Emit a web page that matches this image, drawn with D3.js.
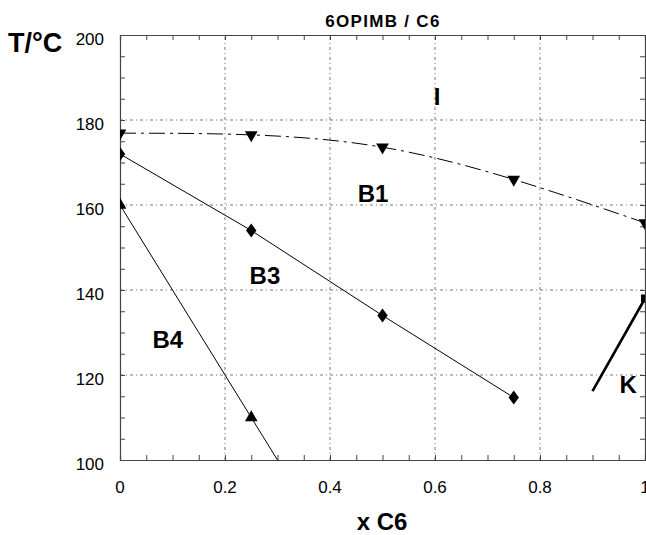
<!DOCTYPE html>
<html lang="en">
<head>
    <meta charset="UTF-8">
    <title>6OPIMB / C6</title>
    <script src="https://d3js.org/d3.v7.min.js"></script>
    <style>
        body { margin: 0; background: #fff; font-family: "Liberation Sans", Arial, sans-serif; }
        svg { display: block; }
        .tick-label { font-size: 17px; fill: #000; }
        .region { font-size: 24px; font-weight: bold; fill: #000; }
        .grid { stroke: #777; stroke-width: 1; stroke-dasharray: 3,3,1,3; }
    </style>
</head>
<body>
    <svg id="chart"></svg>
    <script>
        // I -> B1 transition (down triangles)
        const xI = [0, 0.25, 0.5, 0.75, 1];
        const tI = [176.9, 176.5, 173.6, 166, 155.8];
        // B1 -> B3 (diamonds)
        const xB1 = [0, 0.25, 0.5, 0.75];
        const tB1 = [172, 154, 134, 114.7];
        // B3 -> B4 (up triangles), line runs on to the bottom axis
        const xB3 = [0, 0.25];
        const tB3 = [160, 110];
        // crystal line near x = 1
        const xK = [0.9, 1];
        const tK = [116.2, 138];

        const xTicks = [0, 0.2, 0.4, 0.6, 0.8, 1];
        const xTickLabels = ["0", "0.2", "0.4", "0.6", "0.8", "1"];
        const yTicks = [100, 120, 140, 160, 180, 200];

        const regions = [
            { label: "I", x: 0.604, t: 183.5 },
            { label: "B1", x: 0.482, t: 160.7 },
            { label: "B3", x: 0.276, t: 141.4 },
            { label: "B4", x: 0.091, t: 126.4 },
            { label: "K", x: 0.968, t: 115.8 }
        ];

        const width = 646, height = 535;
        const svg = d3.select("#chart").attr("width", width).attr("height", height);

        const x = d3.scaleLinear().domain([0, 1]).range([120, 645]);
        const y = d3.scaleLinear().domain([100, 200]).range([460, 35]);

        svg.append("clipPath").attr("id", "plot")
          .append("rect").attr("x", 120).attr("y", 35).attr("width", 525).attr("height", 425);

        // grid
        const grid = svg.append("g");
        grid.selectAll(".gx").data(xTicks.slice(1, -1)).enter().append("line")
          .attr("class", "grid")
          .attr("x1", d => x(d)).attr("x2", d => x(d))
          .attr("y1", y(100)).attr("y2", y(200));
        grid.selectAll(".gy").data(yTicks.slice(1, -1)).enter().append("line")
          .attr("class", "grid")
          .attr("x1", x(0)).attr("x2", x(1))
          .attr("y1", d => y(d)).attr("y2", d => y(d));

        // frame + inward ticks on all four sides
        const frameColor = "#444";
        const xMinor = d3.range(0, 1.0001, 0.05);
        const yMinor = d3.range(100, 200.1, 5);
        const axisB = d3.axisBottom(x).tickValues(xMinor).tickSize(-5).tickFormat("");
        const axisT = d3.axisTop(x).tickValues(xMinor).tickSize(-5).tickFormat("");
        const axisL = d3.axisLeft(y).tickValues(yMinor).tickSize(-5).tickFormat("");
        const axisR = d3.axisRight(y).tickValues(yMinor).tickSize(-5).tickFormat("");

        [[axisB, `translate(0,${y(100)})`], [axisT, `translate(0,${y(200)})`],
         [axisL, `translate(${x(0)},0)`], [axisR, `translate(${x(1)},0)`]].forEach(([ax, tr]) => {
            const g = svg.append("g").attr("transform", tr).call(ax);
            g.select(".domain").attr("stroke", frameColor).attr("stroke-width", 1.2);
            g.selectAll(".tick line").attr("stroke", frameColor);
        });

        // tick labels
        svg.selectAll(".xl").data(xTicks).enter().append("text")
          .attr("class", "tick-label")
          .attr("x", d => x(d)).attr("y", 493)
          .attr("text-anchor", "middle")
          .text((d, i) => xTickLabels[i]);
        svg.selectAll(".yl").data(yTicks).enter().append("text")
          .attr("class", "tick-label")
          .attr("x", 104).attr("y", d => y(d) + 9.5)
          .attr("text-anchor", "end")
          .text(d => d);

        const plot = svg.append("g").attr("clip-path", "url(#plot)");

        // dashed I/B1 curve
        const zipI = xI.map((v, i) => [v, tI[i]]);
        plot.append("path")
          .attr("d", d3.line().x(d => x(d[0])).y(d => y(d[1])).curve(d3.curveNatural)(zipI))
          .attr("fill", "none").attr("stroke", "#000").attr("stroke-width", 1)
          .attr("stroke-dasharray", "16,5,3,5");

        // B1/B3 line
        const zipB1 = xB1.map((v, i) => [v, tB1[i]]);
        plot.append("path")
          .attr("d", d3.line().x(d => x(d[0])).y(d => y(d[1]))(zipB1))
          .attr("fill", "none").attr("stroke", "#000").attr("stroke-width", 1);

        // B3/B4 line, extended to the bottom axis
        const slope = (tB3[1] - tB3[0]) / (xB3[1] - xB3[0]);
        const xEnd = xB3[0] + (100 - tB3[0]) / slope;
        plot.append("line")
          .attr("x1", x(xB3[0])).attr("y1", y(tB3[0]))
          .attr("x2", x(xEnd)).attr("y2", y(100))
          .attr("stroke", "#000").attr("stroke-width", 1);

        // K line
        plot.append("line")
          .attr("x1", x(xK[0])).attr("y1", y(tK[0]))
          .attr("x2", x(xK[1])).attr("y2", y(tK[1]))
          .attr("stroke", "#000").attr("stroke-width", 2.6);
        plot.append("rect")
          .attr("x", x(1) - 4).attr("y", y(tK[1]) - 4).attr("width", 8).attr("height", 8)
          .attr("fill", "#000");

        // markers
        const sym = (type, size) => d3.symbol().type(type).size(size)();
        plot.selectAll(".mI").data(zipI).enter().append("path")
          .attr("d", sym(d3.symbolTriangle, 70))
          .attr("transform", d => `translate(${x(d[0])},${y(d[1])}) rotate(180)`)
          .attr("fill", "#000");
        plot.selectAll(".mB1").data(zipB1).enter().append("path")
          .attr("d", sym(d3.symbolDiamond, 55))
          .attr("transform", d => `translate(${x(d[0])},${y(d[1])}) scale(1.3,1)`)
          .attr("fill", "#000");
        plot.selectAll(".mB3").data(xB3.map((v, i) => [v, tB3[i]])).enter().append("path")
          .attr("d", sym(d3.symbolTriangle, 70))
          .attr("transform", d => `translate(${x(d[0])},${y(d[1])})`)
          .attr("fill", "#000");

        // region labels
        svg.selectAll(".region").data(regions).enter().append("text")
          .attr("class", "region")
          .attr("x", d => x(d.x)).attr("y", d => y(d.t))
          .attr("text-anchor", "middle")
          .text(d => d.label);

        // titles
        svg.append("text").attr("x", 383).attr("y", 27)
          .attr("text-anchor", "middle")
          .style("font-size", "17px").style("font-weight", "bold")
          .style("letter-spacing", "1.3px")
          .text("6OPIMB / C6");
        svg.append("text").attr("x", 8).attr("y", 52)
          .style("font-size", "27px").style("font-weight", "bold")
          .text("T/°C");
        svg.append("text").attr("x", 382).attr("y", 530)
          .attr("text-anchor", "middle")
          .style("font-size", "24px").style("font-weight", "bold")
          .text("x C6");
    </script>
</body>
</html>
